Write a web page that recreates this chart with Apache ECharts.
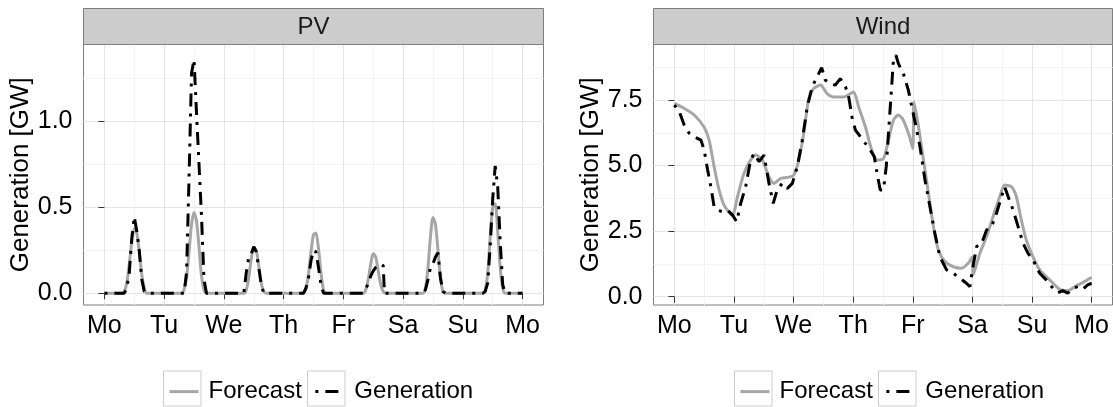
<!DOCTYPE html>
<html><head><meta charset="utf-8">
<script src="https://cdn.jsdelivr.net/npm/echarts@6/dist/echarts.min.js"></script>
<style>html,body{margin:0;padding:0;background:#fff}#c{width:1113px;height:407px}</style>
</head><body><div id="c"></div>
<script>
// ---- data ----
const dayLabels = ['Mo','Tu','We','Th','Fr','Sa','Su','Mo'];
const dayTicks = [0,24,48,72,96,120,144,168];       // hours
const halfDayTicks = [12,36,60,84,108,132,156];
const pvTicks = [0, 0.5, 1.0];
const pvMinorTicks = [0.25, 0.75, 1.25];
const windTicks = [0, 2.5, 5.0, 7.5];
const windMinorTicks = [1.25, 3.75, 6.25, 8.75];
const seriesNames = ['Forecast', 'Generation'];

// [hour, GW]
const pvForecast = [[0,0],[7,0],[8,0.01],[9,0.06],[10,0.17],[11,0.30],[12,0.375],[13,0.35],[14,0.24],[15,0.11],[16,0.03],[17,0],
 [31,0],[32,0.02],[33,0.09],[34,0.24],[35,0.40],[36,0.47],[37,0.42],[38,0.27],[39,0.10],[40,0.02],[41,0],
 [56,0],[57,0.02],[58,0.09],[59,0.20],[60,0.265],[61,0.25],[62,0.16],[63,0.06],[64,0.01],[65,0],
 [80,0],[81,0.03],[82,0.11],[83,0.24],[84,0.34],[85,0.35],[86,0.26],[87,0.12],[88,0.02],[89,0],
 [104,0],[105,0.02],[106,0.08],[107,0.17],[108,0.23],[109,0.21],[110,0.13],[111,0.05],[112,0.01],[113,0],
 [128,0],[129,0.03],[130,0.15],[131,0.33],[132,0.44],[133,0.40],[134,0.25],[135,0.09],[136,0.01],[137,0],
 [152,0],[153,0.02],[154,0.12],[155,0.33],[156,0.50],[157,0.52],[158,0.36],[159,0.15],[160,0.03],[161,0],[168,0]];

const pvGeneration = [[0,0],[8,0],[9,0.03],[10,0.12],[11,0.32],[12,0.445],[13,0.36],[14,0.25],[15,0.08],[16,0.01],[17,0],
 [32,0],[33,0.12],[34,0.67],[35,1.28],[36,1.36],[37,1.05],[38,0.75],[39,0.45],[40,0.08],[41,0],
 [56,0],[57,0.12],[58,0.21],[59,0.23],[60,0.27],[61,0.24],[62,0.15],[63,0.05],[64,0],
 [80,0],[81,0.03],[82,0.09],[83,0.19],[84,0.25],[85,0.24],[86,0.15],[87,0.05],[88,0],
 [104,0],[105,0.02],[106,0.06],[107,0.10],[108,0.13],[109,0.15],[110,0.16],[111,0.17],[112,0.16],[112.5,0],
 [128,0],[129,0.02],[130,0.08],[131,0.15],[132,0.17],[133,0.21],[134,0.235],[135,0.09],[136,0.01],[137,0],
 [152,0],[153,0.01],[154,0.06],[155,0.28],[156,0.55],[157,0.74],[158,0.62],[159,0.30],[160,0.05],[161,0],[168,0]];

const windForecast = [[0,7.37],[4,7.18],[8,6.93],[12,6.46],[14,5.97],[16,4.96],[18,4.07],[20,3.49],[22.7,3.15],[23.5,3.11],
 [25.4,3.81],[28,4.70],[30.7,5.21],[32.8,5.40],[35.4,5.21],[38.1,4.57],[40.1,4.32],[42.8,4.51],[46.8,4.57],[48.1,4.64],
 [50.1,5.21],[52.1,6.23],[54.1,7.56],[56.1,7.94],[58.8,8.07],[61.5,7.75],[64.2,7.62],[68.2,7.62],[70.9,7.75],[72.2,7.81],
 [74.2,7.24],[76.9,6.48],[79.5,5.59],[81.6,5.21],[84.2,5.27],[86.2,5.97],[88.2,6.73],[90.2,6.93],[92.2,6.73],[94.7,6.10],
 [96,5.65],[96.5,7.43],[98.3,6.48],[100.3,5.21],[102.3,3.94],[104.3,2.67],[106.3,1.78],[109,1.33],[112.3,1.14],[115.6,1.08],
 [118.3,1.27],[120,1.52],[120.3,0.83],[123,1.65],[125.7,2.29],[128.3,3.05],[131,3.81],[133,4.26],[135.7,4.19],[137.7,3.81],
 [139.7,2.92],[141.7,2.16],[144.4,1.52],[147.1,1.02],[151.1,0.64],[155.1,0.28],[158.4,0.23],[161.8,0.41],[165.1,0.57],[168,0.74]];

const windGeneration = [[0,7.31],[2,7.05],[4,6.54],[6,6.23],[8,6.10],[10.7,5.97],[12,5.59],[13.4,4.83],[14.7,4.19],[16,3.43],
 [17.4,3.30],[19.4,3.24],[21.4,3.30],[23.4,3.11],[25.1,2.86],[26.7,3.56],[28.7,4.19],[30.7,5.21],[32.1,5.46],[34.1,5.15],
 [36.1,5.40],[38.1,4.32],[39.8,3.56],[41.4,4.07],[43.4,4.32],[45.5,4.13],[47.5,4.32],[49.5,4.96],[51.5,5.97],[53.5,7.24],
 [55.5,8.01],[57.5,8.39],[59.3,8.74],[60.8,8.26],[62.8,8.13],[64.8,8.07],[66.8,8.32],[68.9,8.01],[70.2,7.62],[71.5,6.86],
 [72.9,6.35],[74.9,6.10],[76.9,5.85],[78.9,5.59],[80.5,5.34],[81.6,4.70],[82.9,4.07],[84.2,4.07],[85.3,4.96],[86.2,6.23],
 [87.2,7.62],[88.2,9.02],[89.2,9.21],[90.2,8.89],[92.2,8.51],[94.2,7.88],[95.6,7.24],[96.9,6.67],[98.9,5.72],[100.9,4.45],
 [102.9,3.43],[104.9,2.41],[106.9,1.52],[109.6,1.02],[112.3,0.89],[115,0.70],[117.6,0.51],[119,0.38],[120,1.02],[121.7,1.91],
 [123.7,2.03],[125.7,2.54],[127.7,2.67],[129.7,3.18],[131.7,3.81],[133,4.19],[134.4,3.81],[136.4,3.30],[138.4,2.67],[140.4,2.03],
 [142.4,1.65],[144.4,1.40],[147.1,0.89],[149.7,0.64],[152.4,0.32],[154.4,0.15],[156.4,0.23],[158.4,0.13],[160.4,0.32],[162.4,0.38],
 [164.4,0.28],[166.4,0.45],[168,0.51]];

// ---- chart ----
const FONT = '"Liberation Sans", Arial, Helvetica, sans-serif';
const GREY = '#a6a6a6';
const DASH = [3, 7, 13, 7];
const panels = [
  {title:'PV', left:83.5, width:460, ymin:-0.069, ymax:1.447, ticks:pvTicks, minor:pvMinorTicks, f:pvForecast, g:pvGeneration, legendLeft:168},
  {title:'Wind', left:653.5, width:459, ymin:-0.32, ymax:9.62, ticks:windTicks, minor:windMinorTicks, f:windForecast, g:windGeneration, legendLeft:739}
];
const TOP = 44.5, HEIGHT = 260.5;

const grid = [], xAxis = [], yAxis = [], series = [], legend = [], graphic = [];
panels.forEach((p, i) => {
  grid.push({left:p.left, top:TOP, width:p.width, height:HEIGHT, show:true, backgroundColor:'#fff', borderColor:'#7f7f7f', borderWidth:1});
  xAxis.push({type:'value', gridIndex:i, min:-8.4, max:176.4,
    axisLine:{show:false},
    axisTick:{show:true, length:6, lineStyle:{color:'#333', width:1}, customValues:dayTicks},
    axisLabel:{customValues:dayTicks, formatter:v => dayLabels[dayTicks.indexOf(v)], fontSize:25, color:'#000', margin:9, fontFamily:FONT},
    splitLine:{show:true, lineStyle:{color:'#e5e5e5', width:1}}});
  xAxis.push({type:'value', gridIndex:i, min:-8.4, max:176.4, position:'bottom',
    axisLine:{show:false}, axisLabel:{show:false},
    axisTick:{show:false, customValues:halfDayTicks},
    splitLine:{show:true, lineStyle:{color:'#f3f3f3', width:1}}});
  yAxis.push({type:'value', gridIndex:i, min:p.ymin, max:p.ymax,
    name:'Generation [GW]', nameLocation:'middle', nameGap:49, nameRotate:90,
    nameTextStyle:{fontSize:26, color:'#000', fontFamily:FONT},
    axisLine:{show:false},
    axisTick:{show:true, length:6, lineStyle:{color:'#333', width:1}, customValues:p.ticks},
    axisLabel:{customValues:p.ticks, formatter:v => v.toFixed(1), fontSize:25, color:'#000', margin:11, fontFamily:FONT},
    splitLine:{show:true, lineStyle:{color:'#e5e5e5', width:1}}});
  yAxis.push({type:'value', gridIndex:i, min:p.ymin, max:p.ymax, position:'left',
    axisLine:{show:false}, axisLabel:{show:false},
    axisTick:{show:false, customValues:p.minor},
    splitLine:{show:true, lineStyle:{color:'#f3f3f3', width:1}}});

  series.push({type:'line', name:seriesNames[0], xAxisIndex:2*i, yAxisIndex:2*i, data:p.f,
    symbol:'none', smooth:0.25, lineStyle:{color:GREY, width:3}, itemStyle:{color:GREY}, z:3});
  series.push({type:'line', name:seriesNames[1], xAxisIndex:2*i, yAxisIndex:2*i, data:p.g,
    symbol:'none', lineStyle:{color:'#000', width:3, type:DASH, cap:'butt'}, itemStyle:{color:'#000'}, z:4});

  legend.push({data:seriesNames, left:p.legendLeft, top:378, padding:0, orient:'horizontal', itemWidth:29, itemHeight:34, itemGap:12,
    selectedMode:false,
    itemStyle:{color:'rgba(0,0,0,0)', borderColor:'rgba(0,0,0,0)', borderWidth:0, opacity:0},
    lineStyle:{width:3},
    textStyle:{fontSize:24, color:'#000', fontFamily:FONT, padding:[0,0,0,5]}});

  graphic.push({type:'rect', z:10, shape:{x:p.left, y:8.5, width:p.width, height:36}, style:{fill:'#cccccc', stroke:'#7f7f7f', lineWidth:1}});
  graphic.push({type:'text', z:11, x:p.left + p.width/2, y:27, style:{text:p.title, font:'24px ' + FONT, fill:'#1a1a1a', align:'center', verticalAlign:'middle'}});
});
[[163.5,307.5],[734.5,878.5]].forEach(xs => xs.forEach(x => {
  graphic.push({type:'rect', z:0, shape:{x:x, y:371, width:37.5, height:35}, style:{fill:'none', stroke:'#cccccc', lineWidth:1}});
}));

const chart = echarts.init(document.getElementById('c'), null, {renderer:'canvas'});
chart.setOption({animation:false, backgroundColor:'#fff', textStyle:{fontFamily:FONT}, grid, xAxis, yAxis, series, legend, graphic});
</script></body></html>
